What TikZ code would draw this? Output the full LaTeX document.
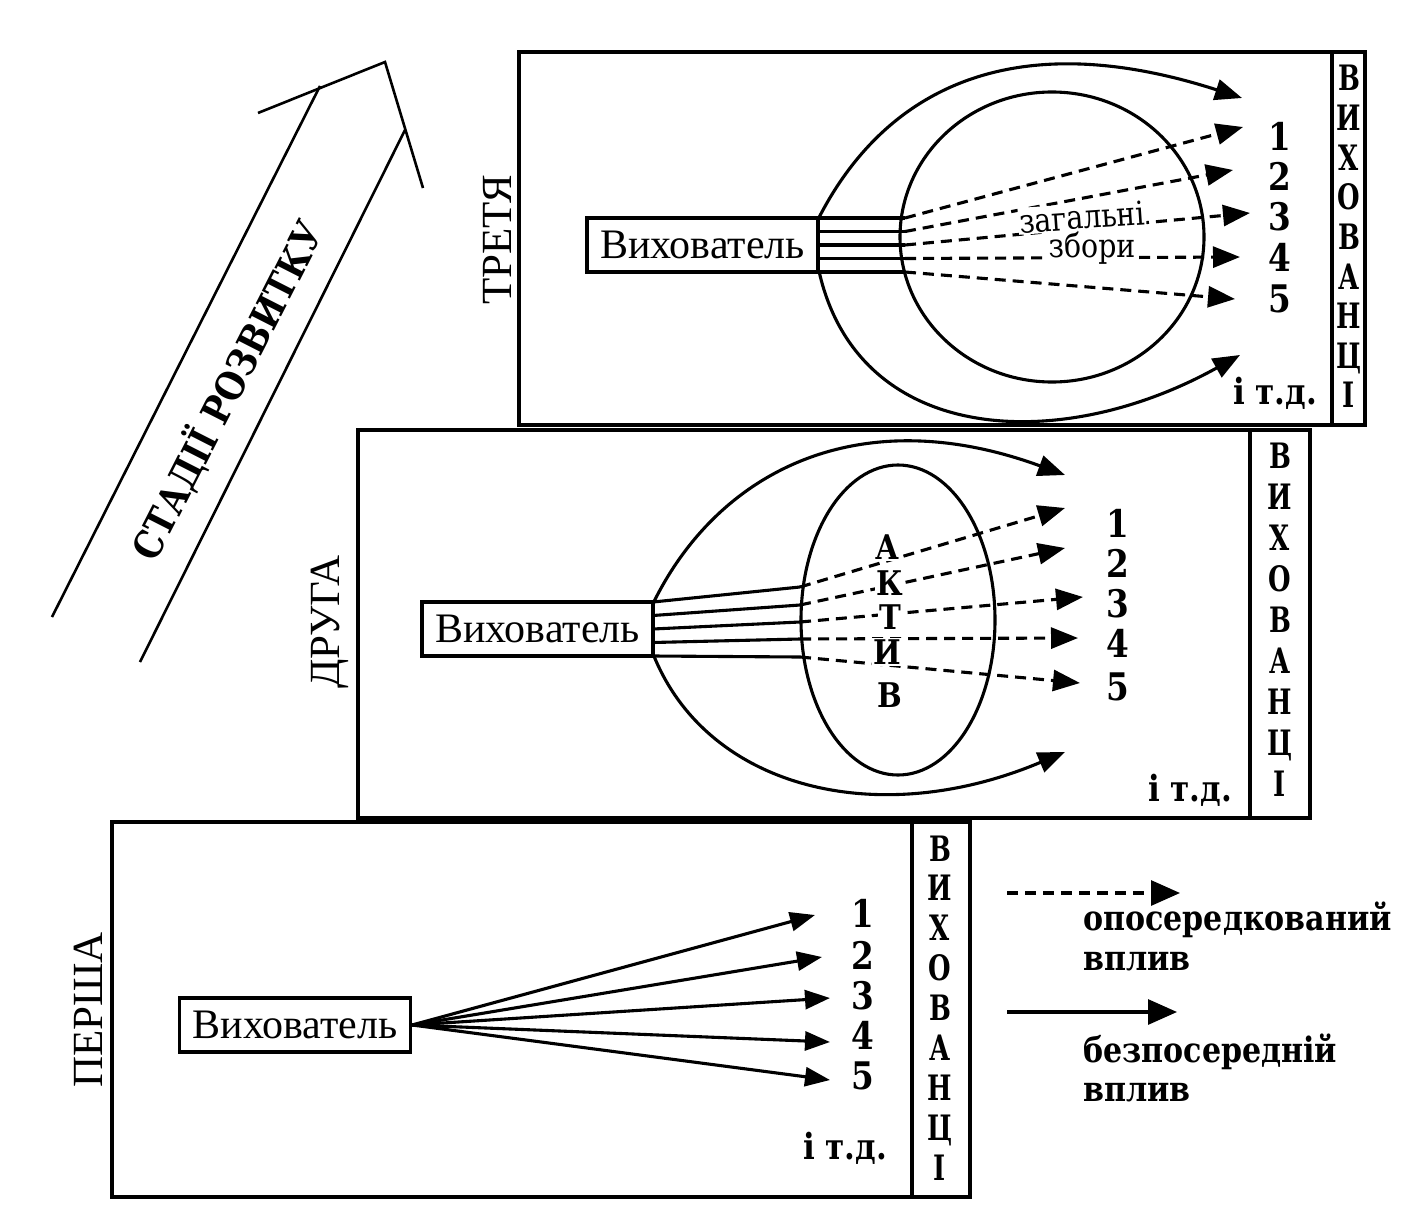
\documentclass[tikz,border=0pt]{standalone}
\usepackage{fontspec}
\setmainfont{Liberation Serif}
\newfontfamily\schb[FakeStretch=0.86]{DejaVu Serif}
\newfontfamily\schc[FakeStretch=0.74]{DejaVu Serif}
\usetikzlibrary{arrows.meta}
\begin{document}
\begin{tikzpicture}[x=1pt,y=-1pt,
  frame/.style={draw,line width=3.4pt},
  ln/.style={line width=3.1pt},
  thinln/.style={line width=2.6pt},
  vbox/.style={draw,line width=3.1pt,minimum width=231pt,minimum height=54pt,inner sep=0pt,font=\fontsize{42}{42}\selectfont},
  stagelbl/.style={rotate=90,inner sep=0pt,font=\fontsize{43}{43}\selectfont},
  numlbl/.style={inner sep=0pt,anchor=base,font=\schb\bfseries\fontsize{38}{38}\selectfont},
  collbl/.style={inner sep=0pt,anchor=base,font=\schc\bfseries\fontsize{35}{35}\selectfont},
  aktiv/.style={inner sep=1.5pt,fill=white,font=\schb\bfseries\fontsize{34}{34}\selectfont},
  zbory/.style={inner sep=1pt,fill=white,font=\schb\fontsize{33}{33}\selectfont},
  etc/.style={inner sep=0pt,font=\schb\bfseries\fontsize{36}{36}\selectfont},
  leg/.style={inner sep=0pt,anchor=west,font=\schb\bfseries\fontsize{35}{35}\selectfont},
  tipbig/.style={-{Triangle[length=27pt,width=21pt]}},
  tipone/.style={-{Triangle[length=25pt,width=19pt]}},
  tipleg/.style={-{Triangle[length=29pt,width=25pt]}},
  dsh/.style={dash pattern=on 11pt off 7pt},
]
\useasboundingbox (0,0) rectangle (1424,1220);

% ---------- big arrow: stages of development ----------
\coordinate (aL0) at (52,617);
\coordinate (aL1) at (320,86);
\coordinate (aW1) at (258,113);
\coordinate (aTip) at (385,62);
\coordinate (aW2) at (423,188);
\coordinate (aR0) at (140,662);
\coordinate (aR1) at (405,130);
\draw[thinln] (aL0) -- (aL1);
\draw[thinln] (aR0) -- (aR1);
\draw[thinln,line join=miter] (aW1) -- (aTip) -- (aW2);
\node[rotate=63,inner sep=0pt,font=\schb\bfseries\fontsize{39}{39}\selectfont] (stadii) at (227,390) {СТАДІЇ РОЗВИТКУ};

% ---------- stage 3 ----------
\draw[frame] (519,52) rectangle (1365,425);
\draw[frame] (1332,52) -- (1332,425);
\node[stagelbl] (st3) at (497,240) {ТРЕТЯ};
\node[vbox] (v3) at (702.5,245) {Вихователь};
\coordinate (c3) at (1052,237);
\draw[ln] (c3) ellipse [x radius=152, y radius=145];
\foreach \ys/\tx/\ty [count=\i] in {218/1243/127, 231.5/1233/170, 245/1250/213, 258.5/1240/257, 272/1235/299} {
  \coordinate (s3-\i) at (818,\ys);
  \coordinate (e3-\i) at (905,\ys);
  \coordinate (t3-\i) at (\tx,\ty);
  \draw[ln] (s3-\i) -- (e3-\i);
  \draw[ln,dsh,tipbig] (e3-\i) -- (t3-\i);
}
\coordinate (u3) at (1242,98);
\coordinate (l3) at (1240,355);
\draw[ln,tipbig] (v3.north east) .. controls (880,100) and (1000,20) .. (u3);
\draw[ln,tipbig] (v3.south east) .. controls (860,445) and (1060,455) .. (l3);
\node[zbory,rotate=4] (zag3) at (1082,217) {загальні};
\node[zbory] (zb3) at (1092,248) {збори};
\foreach \n/\y in {1/136,2/176,3/216,4/257,5/298}
  \node[numlbl] (n3-\n) at (1280,\y+14) {\n};
\node[etc] (etc3) at (1275,393) {і т.д.};
\foreach \L [count=\i from 0] in {В,И,Х,О,В,А,Н,Ц,І}
  \node[collbl] (w3-\i) at (1349,{91+39.6*\i}) {\L};

% ---------- stage 2 ----------
\draw[frame] (358,430) rectangle (1310,818);
\draw[frame] (1250,430) -- (1250,818);
\node[stagelbl] (st2) at (330,622) {ДРУГА};
\node[vbox] (v2) at (537.5,629) {Вихователь};
\coordinate (c2) at (898,620);
\draw[ln] (c2) ellipse [x radius=97, y radius=155];
\foreach \ys/\ye/\tx/\ty [count=\i] in {602/587/1065/508, 615.5/605/1065/548, 629/622/1083/597, 642.5/639/1078/638, 656/657/1080/683} {
  \coordinate (s2-\i) at (653,\ys);
  \coordinate (e2-\i) at (800,\ye);
  \coordinate (t2-\i) at (\tx,\ty);
  \draw[ln] (s2-\i) -- (e2-\i);
  \draw[ln,dsh,tipbig] (e2-\i) -- (t2-\i);
}
\coordinate (u2) at (1065,475);
\coordinate (l2) at (1065,752);
\draw[ln,tipbig] (v2.north east) .. controls (720,470) and (860,400) .. (u2);
\draw[ln,tipbig] (v2.south east) .. controls (710,790) and (880,830) .. (l2);
\foreach \L/\x/\y [count=\i] in {А/887/547, К/890/583, Т/890/617, И/887/652, В/890/695}
  \node[aktiv] (ak-\i) at (\x,\y) {\L};
\foreach \n/\y in {1/523,2/563,3/603,4/643,5/686}
  \node[numlbl] (n2-\n) at (1118,\y+14) {\n};
\node[etc] (etc2) at (1190,790) {і т.д.};
\foreach \L [count=\i from 0] in {В,И,Х,О,В,А,Н,Ц,І}
  \node[collbl] (w2-\i) at (1280,{468+41*\i}) {\L};

% ---------- stage 1 ----------
\draw[frame] (112,822) rectangle (970,1197);
\draw[frame] (912,822) -- (912,1197);
\node[stagelbl] (st1) at (88,1010) {ПЕРША};
\node[vbox] (v1) at (295,1025) {Вихователь};
\foreach \tx/\ty [count=\i] in {815/915, 822/957, 830/998, 830/1042, 830/1080} {
  \coordinate (t1-\i) at (\tx,\ty);
  \draw[ln,tipone] (v1.east) -- (t1-\i);
}
\foreach \n/\y in {1/913,2/955,3/995,4/1035,5/1075}
  \node[numlbl] (n1-\n) at (863,\y+14) {\n};
\node[etc] (etc1) at (845,1148) {і т.д.};
\foreach \L [count=\i from 0] in {В,И,Х,О,В,А,Н,Ц,І}
  \node[collbl] (w1-\i) at (940,{861+39.9*\i}) {\L};

% ---------- legend ----------
\coordinate (ld0) at (1007,893);
\coordinate (ld1) at (1180,893);
\draw[ln,dsh,tipleg] (ld0) -- (ld1);
\node[leg] (lg1) at (1083,920) {опосередкований};
\node[leg] (lg2) at (1083,962) {вплив};
\coordinate (ls0) at (1007,1012);
\coordinate (ls1) at (1177,1012);
\draw[ln,tipleg] (ls0) -- (ls1);
\node[leg] (lg3) at (1083,1052) {безпосередній};
\node[leg] (lg4) at (1083,1093) {вплив};
\end{tikzpicture}
\end{document}
